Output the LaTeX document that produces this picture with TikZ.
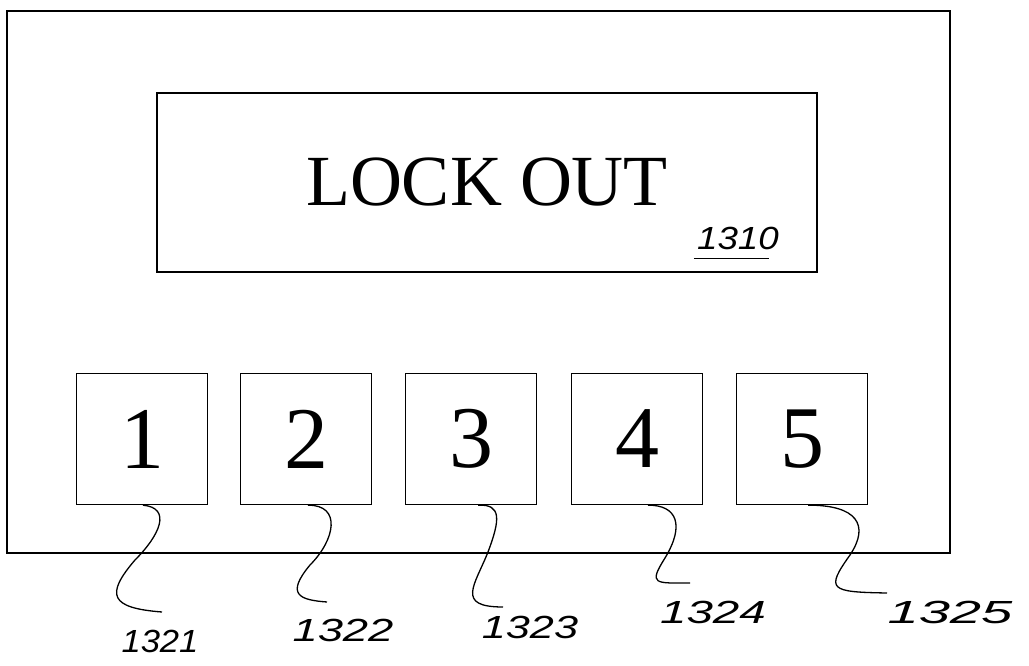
\documentclass[tikz,border=0pt]{standalone}
\usepackage{fontspec}
\setmainfont{Liberation Serif}
\newfontfamily\handfont{Liberation Sans}

\tikzset{
    panel/.style={draw, line width=1.6pt},
    keybox/.style={draw, line width=1.3pt, minimum size=131pt, inner sep=0pt,
        font=\fontsize{88}{90}\selectfont},
    refnum/.style={font=\handfont\itshape\fontsize{32}{34}\selectfont, xscale=1.35, inner sep=0pt},
    leader/.style={line width=1.3pt}
}

\begin{document}
\begin{tikzpicture}[x=1pt, y=-1pt]
    \useasboundingbox (0,0) rectangle (1029,666);

    \def\keybox#1#2{%
        \node[keybox] (key#1) at (#2,439) {#1};
    }

    % outer panel and display
    \draw[panel] (7,11) rectangle (950,553);
    \node[draw, line width=1.3pt, minimum width=660pt, minimum height=179pt, inner sep=0pt,
        font=\fontsize{72}{76}\selectfont] (display) at (487,182.5) {LOCK OUT};

    \node[refnum, xscale=0.85] (lbl1310) at (738,238) {1310};
    \draw[line width=1.3pt] ([yshift=-9pt, xshift=-3pt]lbl1310.south west) -- ([yshift=-9pt, xshift=-10pt]lbl1310.south east);

    % keys
    \keybox{1}{142}
    \keybox{2}{306}
    \keybox{3}{471}
    \keybox{4}{637}
    \keybox{5}{802}

    % reference numerals
    \node[refnum, xscale=0.8] (lbl1321) at (160,641) {1321};
    \node[refnum, xscale=1.05] (lbl1322) at (343,630) {1322};
    \node[refnum] (lbl1323) at (530,627) {1323};
    \node[refnum, xscale=1.1] (lbl1324) at (713,612) {1324};
    \node[refnum, xscale=1.3] (lbl1325) at (950,612) {1325};

    \coordinate (end1) at (162,612);
    \coordinate (end2) at (327,602);
    \coordinate (end3) at (503,607);
    \coordinate (end4) at (690,583);
    \coordinate (end5) at (887,593);

    % leaders
    \draw[leader] ([xshift=1pt]key1.south) .. controls (172,508) and (160,535) .. (135,560)
        .. controls (105,595) and (110,608) .. (end1);
    \draw[leader] ([xshift=2pt]key2.south) .. controls (342,505) and (335,540) .. (310,565)
        .. controls (285,595) and (300,600) .. (end2);
    \draw[leader] ([xshift=7pt]key3.south) .. controls (502,504) and (500,520) .. (488,552)
        .. controls (475,585) and (455,607) .. (end3);
    \draw[leader] ([xshift=11pt]key4.south) .. controls (677,505) and (685,525) .. (665,558)
        .. controls (648,585) and (655,583) .. (end4);
    \draw[leader] ([xshift=6pt]key5.south) .. controls (857,505) and (870,525) .. (850,555)
        .. controls (825,590) and (830,592) .. (end5);
\end{tikzpicture}
\end{document}
